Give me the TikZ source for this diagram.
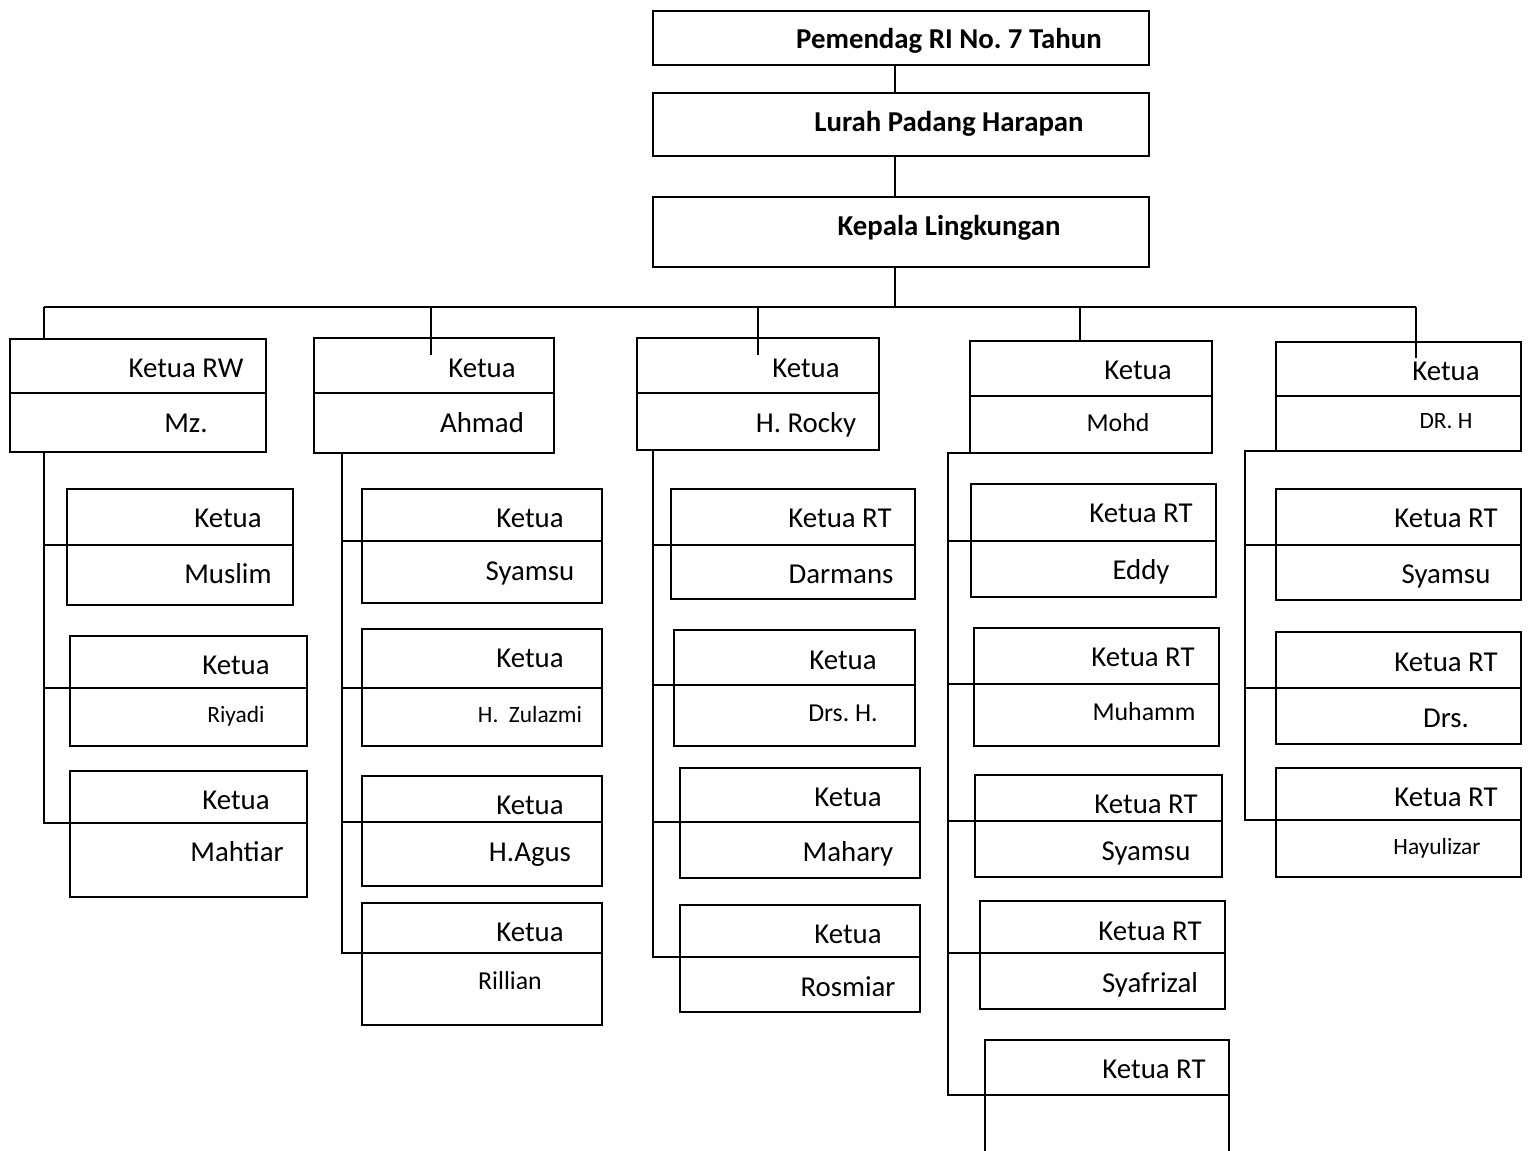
\documentclass[tikz,border=0pt]{standalone}
\usepackage{fontspec}
\setmainfont{Carlito}
\usetikzlibrary{fit}
\frenchspacing

\tikzset{
  box/.style={draw, line width=1.2pt, inner sep=0pt, outer sep=0pt},
  conn/.style={line width=1pt},
  lbl/.style={inner sep=0pt, text height=10.6pt, text depth=0pt, font=\fontsize{16.4}{19}\selectfont},
  lblm/.style={lbl, text height=9.5pt, font=\fontsize{14.7}{17}\selectfont},
  lbls/.style={lbl, text height=8.6pt, font=\fontsize{13.3}{16}\selectfont},
  head/.style={lbl, font=\fontsize{16.4}{19}\selectfont\bfseries},
}

\newcommand{\orgbox}[6]{%
  \node[box, fit={(#2,#3) (#4,#5)}] (#1) {};
  \coordinate (#1-d) at (#2,#6);
  \draw[box] (#1-d) -- (#4,#6);
}

\begin{document}
\begin{tikzpicture}[x=0.02cm, y=-0.02cm]
\useasboundingbox (0,0) rectangle (1530,1150);
\clip (0,0) rectangle (1530,1150);

\node[box, fit={(653,11) (1149,65)}] (peraturan) {};
\node[box, fit={(653,93) (1149,156)}] (lurah) {};
\node[box, fit={(653,197) (1149,267)}] (kaling) {};
\node[head] (t-peraturan) at (949,39) {Pemendag RI No. 7 Tahun};
\node[head] (t-lurah) at (949,122) {Lurah Padang Harapan};
\node[head] (t-kaling) at (949,226) {Kepala Lingkungan};

\coordinate (spine) at (895,0);
\coordinate (busL) at (44,307);
\coordinate (busR) at (1416,307);
\draw[conn] (peraturan.south -| spine) -- (lurah.north -| spine);
\draw[conn] (lurah.south -| spine) -- (kaling.north -| spine);
\draw[conn] (kaling.south -| spine) -- (spine |- busL);
\draw[conn] (busL) -- (busR);

\orgbox{rw1}{10}{339}{266}{452}{393}
\orgbox{rw2}{314}{338}{554}{453}{393}
\orgbox{rw3}{637}{338}{879}{450}{393}
\orgbox{rw4}{970}{341}{1212}{453}{396}
\orgbox{rw5}{1276}{342}{1521}{451}{396}

\coordinate (d1) at (44,307);
\coordinate (d2) at (431,307);
\coordinate (d3) at (758,307);
\coordinate (d4) at (1080,307);
\coordinate (d5) at (1416,307);
\draw[conn] (d1) -- (d1 |- rw1.north);
\draw[conn] (d2) -- ++(0,48);
\draw[conn] (d3) -- ++(0,48);
\draw[conn] (d4) -- (d4 |- rw4.north);
\draw[conn] (d5) -- ++(0,51);

\node[lbl] (t-rw1a) at (186,368) {Ketua RW};
\node[lbl] (t-rw1b) at (186,423) {Mz.};
\node[lbl] (t-rw2a) at (482,368) {Ketua};
\node[lbl] (t-rw2b) at (482,423) {Ahmad};
\node[lbl] (t-rw3a) at (806,368) {Ketua};
\node[lbl] (t-rw3b) at (806,423) {H. Rocky};
\node[lbl] (t-rw4a) at (1138,370) {Ketua};
\node[lblm] (t-rw4b) at (1118,423) {Mohd};
\node[lbl] (t-rw5a) at (1446,371) {Ketua};
\node[lbls] (t-rw5b) at (1446,421) {DR. H};

\orgbox{c1a}{67}{489}{293}{605}{545}
\orgbox{c1b}{70}{636}{307}{746}{688}
\orgbox{c1c}{70}{771}{307}{897}{823}
\orgbox{c2a}{362}{489}{602}{603}{541}
\orgbox{c2b}{362}{629}{602}{746}{688}
\orgbox{c2c}{362}{776}{602}{886}{822}
\orgbox{c2d}{362}{903}{602}{1025}{953}
\orgbox{c3a}{671}{489}{915}{599}{545}
\orgbox{c3b}{674}{630}{915}{746}{685}
\orgbox{c3c}{680}{768}{920}{878}{822}
\orgbox{c3d}{680}{905}{920}{1012}{957}
\orgbox{c4a}{971}{484}{1216}{597}{541}
\orgbox{c4b}{974}{628}{1219}{746}{684}
\orgbox{c4c}{975}{775}{1222}{877}{821}
\orgbox{c4d}{980}{901}{1225}{1009}{953}
\orgbox{c4e}{985}{1040}{1229}{1170}{1095}
\orgbox{c5a}{1276}{489}{1521}{600}{545}
\orgbox{c5b}{1276}{632}{1521}{744}{688}
\orgbox{c5c}{1276}{768}{1521}{877}{820}

\coordinate (s1) at (44,0);
\coordinate (s2) at (342,0);
\coordinate (s3) at (653,0);
\coordinate (s4) at (948,0);
\coordinate (s5) at (1245,0);
\draw[conn] (rw1.south -| s1) |- (c1c-d);
\draw[conn] (rw2.south -| s2) |- (c2d-d);
\draw[conn] (rw3.south -| d3) -- (rw3.south -| s3) |- (c3d-d);
\draw[conn] (rw4.south -| d4) -- (rw4.south -| s4) |- (c4e-d);
\draw[conn] (rw5.south -| d5) -- (rw5.south -| s5) |- (c5c-d);
\foreach \b in {c1a,c1b}
  \draw[conn] (\b-d -| s1) -- (\b-d);
\foreach \b in {c2a,c2b,c2c}
  \draw[conn] (\b-d -| s2) -- (\b-d);
\foreach \b in {c3a,c3b,c3c}
  \draw[conn] (\b-d -| s3) -- (\b-d);
\foreach \b in {c4a,c4b,c4c,c4d}
  \draw[conn] (\b-d -| s4) -- (\b-d);
\foreach \b in {c5a,c5b}
  \draw[conn] (\b-d -| s5) -- (\b-d);

\node[lbl] (t-c1a1) at (228,518) {Ketua};
\node[lbl] (t-c1a2) at (228,574) {Muslim};
\node[lbl] (t-c1b1) at (236,665) {Ketua};
\node[lbls] (t-c1b2) at (236,715) {Riyadi};
\node[lbl] (t-c1c1) at (236,800) {Ketua};
\node[lbl] (t-c1c2) at (237,852) {Mahtiar};

\node[lbl] (t-c2a1) at (530,518) {Ketua};
\node[lbl] (t-c2a2) at (530,571) {Syamsu};
\node[lbl] (t-c2b1) at (530,658) {Ketua};
\node[lbls] (t-c2b2) at (530,715) {H.~ Zulazmi};
\node[lbl] (t-c2c1) at (530,805) {Ketua};
\node[lbl] (t-c2c2) at (530,852) {H.Agus};
\node[lbl] (t-c2d1) at (530,932) {Ketua};
\node[lblm] (t-c2d2) at (510,981) {Rillian};

\node[lbl] (t-c3a1) at (840,518) {Ketua RT};
\node[lbl] (t-c3a2) at (841,574) {Darmans};
\node[lbl] (t-c3b1) at (843,660) {Ketua};
\node[lblm] (t-c3b2) at (843,713) {Drs. H.};
\node[lbl] (t-c3c1) at (848,797) {Ketua};
\node[lbl] (t-c3c2) at (848,852) {Mahary};
\node[lbl] (t-c3d1) at (848,934) {Ketua};
\node[lbl] (t-c3d2) at (848,987) {Rosmiar};

\node[lbl] (t-c4a1) at (1141,513) {Ketua RT};
\node[lbl] (t-c4a2) at (1141,570) {Eddy};
\node[lbl] (t-c4b1) at (1143,657) {Ketua RT};
\node[lblm] (t-c4b2) at (1144,712) {Muhamm};
\node[lbl] (t-c4c1) at (1146,804) {Ketua RT};
\node[lbl] (t-c4c2) at (1146,851) {Syamsu};
\node[lbl] (t-c4d1) at (1150,931) {Ketua RT};
\node[lbl] (t-c4d2) at (1150,983) {Syafrizal};
\node[lbl] (t-c4e1) at (1154,1069) {Ketua RT};

\node[lbl] (t-c5a1) at (1446,518) {Ketua RT};
\node[lbl] (t-c5a2) at (1446,574) {Syamsu};
\node[lbl] (t-c5b1) at (1446,662) {Ketua RT};
\node[lbl] (t-c5b2) at (1446,718) {Drs.};
\node[lbl] (t-c5c1) at (1446,797) {Ketua RT};
\node[lbls] (t-c5c2) at (1437,847) {Hayulizar};

\end{tikzpicture}
\end{document}
